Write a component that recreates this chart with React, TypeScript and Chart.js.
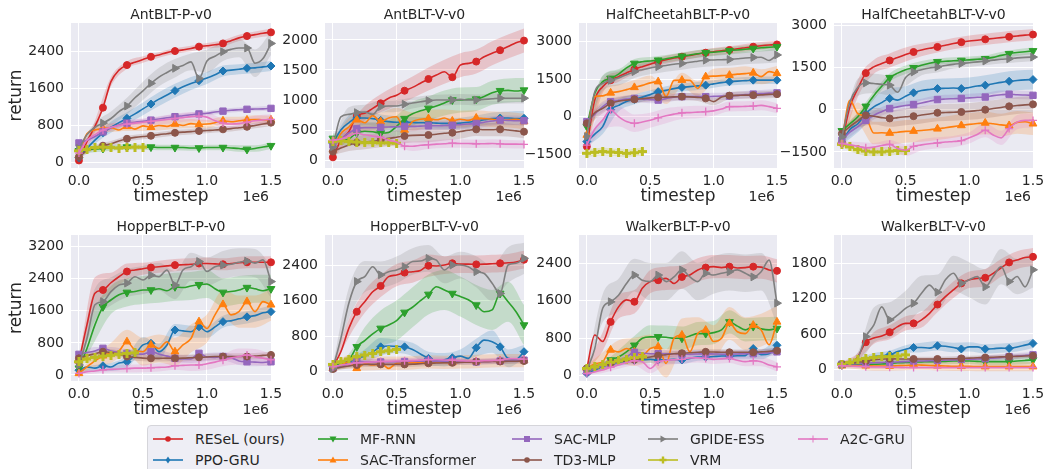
import React, { useEffect, useRef } from "react";
import { Chart, registerables } from "chart.js";

Chart.register(...registerables);

const FONT = "'DejaVu Sans', 'Liberation Sans', sans-serif";
const TEXT = "#262626";
const PLOT_BG = "#EAEAF2";

// ---------- series ----------
const SERIES_NAMES = ["RESeL (ours)", "PPO-GRU", "MF-RNN", "SAC-Transformer", "SAC-MLP", "TD3-MLP", "GPIDE-ESS", "VRM", "A2C-GRU"];
const SERIES_COLORS = ["#d62728", "#1f77b4", "#2ca02c", "#ff7f0e", "#9467bd", "#8c564b", "#7f7f7f", "#bcbd22", "#e377c2"];
const SERIES_MARKERS = ["circle", "diamond", "triDown", "triUp", "square", "circle", "triRight", "plus", "cross"];

// timestep grid (x 1e6)
const STEPS = [0, 0.0625, 0.125, 0.1875, 0.25, 0.3125, 0.375, 0.4375, 0.5, 0.5625, 0.625, 0.6875, 0.75, 0.8125, 0.875, 0.9375, 1.0, 1.0625, 1.125, 1.1875, 1.25, 1.3125, 1.375, 1.4375, 1.5];
const X_TICKS = [0, 0.5, 1.0, 1.5];

// ---------- AntBLT-P-v0 ----------
const ANT_P_MEAN = [
  [40, 450, 780, 1185, 1750, 2000, 2110, 2170, 2230, 2290, 2330, 2380, 2414, 2440, 2470, 2510, 2530, 2550, 2580, 2640, 2700, 2740, 2770, 2800, 2820],
  [100, 300, 480, 640, 760, 860, 955, 1050, 1160, 1265, 1370, 1460, 1555, 1640, 1710, 1770, 1830, 1900, 1980, 2000, 2020, 2040, 2050, 2070, 2090],
  [250, 270, 290, 300, 310, 320, 330, 330, 330, 330, 320, 320, 320, 320, 310, 310, 320, 320, 320, 310, 300, 280, 300, 330, 360],
  [150, 620, 700, 730, 750, 700, 780, 720, 790, 760, 800, 780, 830, 800, 840, 820, 830, 860, 900, 880, 900, 920, 930, 920, 920],
  [420, 480, 560, 660, 750, 810, 850, 870, 890, 915, 940, 965, 990, 1010, 1030, 1050, 1065, 1090, 1110, 1130, 1140, 1150, 1155, 1160, 1170],
  [120, 250, 320, 360, 400, 460, 510, 540, 560, 575, 600, 620, 640, 655, 665, 680, 690, 700, 715, 730, 750, 770, 800, 830, 860],
  [300, 600, 760, 850, 950, 1100, 1220, 1400, 1550, 1713, 1850, 1950, 2040, 2100, 2180, 1820, 2200, 2300, 2400, 2450, 2480, 2480, 2150, 2250, 2580],
  [250, 280, 320, 330, 320, 310, 320, 330, 330],
  [200, 480, 600, 700, 760, 800, 830, 850, 870, 890, 910, 930, 950, 970, 990, 1000, 980, 900, 850, 830, 840, 870, 900, 920, 930],
];
const ANT_P_SPREAD = [
  [30, 120, 100, 80, 70, 60, 60, 60, 60, 70, 70, 70, 80],
  [50, 80, 120, 130, 140, 150, 150, 140, 130, 120, 110, 110, 110],
  [60, 70, 60, 60, 60, 60, 60, 60, 60, 60, 70, 70, 70],
  [60, 80, 90, 100, 110, 110, 100, 100, 90, 90, 90, 90, 90],
  [40, 50, 50, 50, 50, 50, 50, 50, 50, 50, 50, 50, 50],
  [40, 50, 60, 60, 60, 60, 60, 60, 60, 60, 60, 60, 70],
  [60, 100, 150, 180, 200, 200, 200, 180, 250, 200, 200, 300, 250],
  [40, 40, 40, 40, 40],
  [50, 80, 80, 80, 80, 90, 100, 100, 100, 100, 100, 110, 110],
];
const ANT_P_YTICKS = [0, 800, 1600, 2400];

// ---------- AntBLT-V-v0 ----------
const ANT_V_MEAN = [
  [45, 330, 470, 735, 780, 860, 945, 1030, 1080, 1155, 1210, 1280, 1350, 1415, 1470, 1380, 1580, 1610, 1640, 1720, 1780, 1830, 1890, 1955, 1990],
  [280, 500, 620, 700, 700, 690, 660, 640, 630, 630, 625, 620, 620, 615, 610, 610, 615, 630, 650, 670, 690, 700, 700, 690, 695],
  [360, 320, 350, 450, 480, 470, 450, 460, 560, 690, 770, 820, 860, 900, 950, 1000, 1000, 1010, 1015, 1060, 1120, 1155, 1160, 1150, 1165],
  [170, 440, 550, 670, 620, 740, 640, 700, 720, 500, 640, 680, 690, 670, 700, 650, 680, 660, 700, 690, 680, 660, 670, 680, 640],
  [250, 350, 450, 520, 540, 540, 545, 550, 555, 560, 560, 565, 570, 570, 575, 580, 590, 600, 610, 630, 650, 665, 660, 655, 655],
  [140, 200, 250, 290, 300, 310, 333, 360, 380, 400, 410, 415, 417, 430, 445, 455, 475, 495, 511, 505, 505, 511, 500, 485, 472],
  [220, 720, 760, 790, 800, 760, 890, 900, 900, 930, 950, 970, 990, 1000, 1000, 1000, 1010, 1000, 1000, 1010, 1020, 1030, 1030, 1030, 1030],
  [305, 320, 310, 300, 290, 290, 285, 285, 280],
  [330, 350, 400, 445, 420, 400, 380, 330, 300, 230, 230, 245, 255, 265, 270, 280, 275, 275, 270, 270, 275, 270, 265, 265, 260],
];
const ANT_V_SPREAD = [
  [40, 100, 120, 150, 170, 180, 190, 200, 200, 200, 200, 200, 200],
  [60, 120, 120, 100, 100, 90, 90, 90, 90, 90, 100, 110, 120],
  [80, 120, 150, 170, 180, 200, 200, 210, 210, 200, 200, 200, 200],
  [80, 150, 150, 150, 150, 150, 150, 140, 140, 130, 130, 130, 130],
  [60, 80, 80, 80, 80, 80, 80, 80, 80, 80, 80, 80, 80],
  [60, 100, 120, 120, 120, 120, 120, 120, 120, 110, 110, 110, 110],
  [80, 120, 120, 100, 100, 90, 90, 90, 90, 90, 90, 90, 90],
  [50, 50, 50, 50, 50],
  [60, 100, 100, 100, 80, 80, 70, 70, 70, 70, 70, 70, 70],
];
const ANT_V_YTICKS = [0, 500, 1000, 1500, 2000];

// ---------- HalfCheetahBLT-P-v0 ----------
const HC_P_MEAN = [
  [-1200, 660, 1200, 1460, 1600, 1750, 1890, 2000, 2100, 2200, 2280, 2350, 2400, 2450, 2510, 2560, 2600, 2640, 2670, 2720, 2760, 2800, 2840, 2870, 2890],
  [-1000, -700, -400, 280, 450, 600, 690, 780, 880, 1000, 1050, 1120, 1170, 1200, 1230, 1260, 1310, 1360, 1395, 1420, 1440, 1460, 1460, 1460, 1460],
  [-400, 930, 1400, 1530, 1700, 1950, 2130, 2200, 2230, 2260, 2320, 2380, 2420, 2470, 2520, 2560, 2580, 2610, 2640, 2670, 2700, 2730, 2760, 2780, 2800],
  [-740, 800, 830, 950, 1000, 1080, 1170, 1250, 1350, 1400, 800, 1450, 1460, 1450, 1130, 1600, 1620, 1640, 1660, 1700, 1720, 1750, 1600, 1800, 1730],
  [-200, 100, 400, 600, 650, 700, 730, 700, 680, 660, 720, 780, 800, 800, 800, 800, 810, 820, 820, 850, 880, 900, 920, 940, 950],
  [-270, 150, 330, 530, 620, 660, 690, 720, 750, 770, 780, 790, 800, 790, 770, 730, 600, 780, 840, 850, 860, 860, 870, 890, 900],
  [-800, 1000, 1330, 1450, 1550, 1680, 1800, 1880, 1950, 2000, 2050, 2100, 2130, 2180, 2220, 2260, 2270, 2280, 2290, 2320, 2350, 2370, 2380, 2250, 2470],
  [-1470, -1430, -1400, -1420, -1440, -1470, -1450, -1400],
  [-1140, -500, -140, 260, 0, -200, -270, -220, -150, -50, 30, 100, 150, 160, 180, 200, 230, 300, 400, 400, 410, 420, 450, 400, 330],
];
const HC_P_SPREAD = [
  [150, 250, 200, 180, 170, 160, 150, 150, 150, 150, 150, 150, 150],
  [200, 300, 250, 200, 180, 170, 160, 160, 150, 150, 150, 150, 150],
  [150, 250, 200, 180, 160, 150, 150, 150, 150, 150, 150, 150, 150],
  [200, 300, 300, 300, 300, 300, 300, 300, 300, 300, 300, 300, 300],
  [150, 200, 150, 150, 150, 150, 150, 150, 150, 150, 150, 150, 150],
  [150, 200, 150, 150, 150, 150, 150, 150, 150, 150, 150, 150, 150],
  [200, 300, 300, 250, 250, 250, 250, 250, 250, 250, 250, 250, 300],
  [150, 150, 150, 150],
  [200, 400, 400, 350, 300, 300, 250, 250, 200, 200, 200, 200, 200],
];
const HC_P_YTICKS = [-1500, 0, 1500, 3000];

// ---------- HalfCheetahBLT-V-v0 ----------
const HC_V_MEAN = [
  [-1180, 100, 750, 1300, 1520, 1640, 1750, 1850, 1960, 2050, 2120, 2180, 2230, 2290, 2350, 2400, 2440, 2470, 2500, 2530, 2560, 2590, 2620, 2650, 2670],
  [-1150, -700, -500, -140, 100, 250, 400, 340, 480, 600, 680, 720, 750, 760, 770, 750, 790, 840, 870, 920, 970, 1010, 1040, 1060, 1070],
  [-750, -500, -250, 120, 500, 830, 1140, 1300, 1420, 1490, 1580, 1650, 1700, 1720, 1740, 1750, 1770, 1790, 1810, 1860, 1930, 1990, 2030, 2060, 2090],
  [-1090, 330, -140, -260, -830, -820, -830, -800, -770, -760, -740, -710, -680, -640, -600, -560, -520, -490, -470, -500, -540, -560, -450, -430, -500],
  [-1090, -800, -600, -380, -200, -70, 40, 100, 150, 180, 240, 300, 360, 380, 390, 400, 420, 440, 450, 500, 530, 550, 530, 520, 510],
  [-850, -600, -400, -200, -230, -280, -310, -280, -250, -230, -190, -150, -110, -100, -90, -80, -60, -30, 0, 40, 80, 120, 150, 170, 190],
  [-970, 270, 800, 950, 930, 900, 870, 620, 1140, 1340, 1420, 1480, 1520, 1570, 1610, 1640, 1670, 1700, 1730, 1760, 1790, 1810, 1840, 1860, 1870],
  [-1230, -1320, -1420, -1470, -1500, -1500, -1470, -1450, -1450],
  [-1200, -1250, -1300, -1350, -1330, -1270, -1230, -1380, -1440, -1300, -1250, -1210, -1180, -1150, -1130, -1100, -1000, -880, -730, -900, -1000, -670, -440, -380, -380],
];
const HC_V_SPREAD = [
  [100, 300, 250, 250, 250, 220, 200, 200, 200, 200, 200, 200, 200],
  [100, 300, 350, 350, 350, 350, 350, 350, 350, 350, 350, 350, 350],
  [100, 150, 150, 150, 150, 150, 120, 120, 120, 120, 120, 120, 120],
  [100, 400, 400, 400, 400, 400, 400, 400, 400, 400, 400, 400, 400],
  [100, 150, 150, 150, 150, 150, 150, 150, 150, 150, 150, 150, 150],
  [100, 250, 300, 300, 300, 300, 300, 300, 300, 300, 300, 300, 300],
  [100, 300, 350, 350, 300, 200, 200, 150, 150, 150, 150, 150, 150],
  [100, 150, 150, 150, 150],
  [100, 150, 150, 150, 200, 200, 200, 200, 200, 250, 250, 250, 250],
];
const HC_V_YTICKS = [-1500, 0, 1500, 3000];

// ---------- HopperBLT-P-v0 ----------
const HOP_P_MEAN = [
  [330, 1250, 2040, 2120, 2300, 2450, 2580, 2620, 2650, 2680, 2700, 2720, 2740, 2750, 2760, 2780, 2780, 2770, 2760, 2780, 2800, 2810, 2810, 2810, 2810],
  [120, 200, 170, 230, 200, 300, 330, 500, 750, 790, 580, 750, 1120, 1100, 1080, 1200, 1080, 1200, 1330, 1350, 1400, 1450, 1480, 1550, 1580],
  [170, 660, 1250, 1700, 1870, 2000, 2060, 2080, 2120, 2120, 2150, 2100, 2200, 2180, 2220, 2250, 2270, 2150, 2060, 2080, 2120, 2180, 2150, 2100, 2150],
  [40, 200, 350, 480, 550, 600, 830, 620, 580, 750, 660, 830, 580, 750, 910, 1330, 1160, 1500, 1760, 1500, 1580, 1830, 1580, 1830, 1750],
  [515, 560, 600, 665, 600, 560, 540, 520, 520, 580, 520, 470, 415, 400, 400, 540, 450, 440, 460, 430, 350, 330, 320, 310, 330],
  [415, 480, 530, 580, 560, 520, 460, 440, 420, 415, 415, 420, 415, 420, 430, 440, 450, 460, 460, 460, 460, 460, 470, 490, 500],
  [250, 910, 1750, 1830, 2080, 2240, 2290, 2450, 2370, 2490, 2450, 2620, 2240, 2620, 2700, 2830, 2580, 2700, 2740, 2760, 2810, 2840, 2790, 2870, 2330],
  [330, 400, 440, 470, 490, 520, 540, 550],
  [40, 80, 100, 130, 140, 150, 160, 170, 170, 180, 190, 200, 230, 240, 250, 250, 280, 320, 370, 420, 460, 500, 450, 420, 380],
];
const HOP_P_SPREAD = [
  [80, 400, 250, 200, 150, 150, 150, 150, 150, 150, 150, 150, 150],
  [60, 80, 100, 150, 200, 200, 150, 150, 150, 150, 150, 150, 150],
  [80, 400, 350, 350, 350, 350, 350, 350, 350, 350, 350, 350, 350],
  [50, 150, 250, 300, 350, 350, 350, 350, 350, 350, 400, 400, 400],
  [60, 100, 100, 100, 100, 100, 100, 100, 100, 100, 100, 100, 100],
  [60, 80, 80, 80, 80, 80, 80, 80, 80, 80, 80, 80, 80],
  [80, 400, 350, 350, 350, 350, 350, 350, 350, 350, 350, 350, 400],
  [80, 80, 80, 80],
  [40, 60, 80, 100, 100, 100, 100, 150, 150, 150, 200, 200, 150],
];
const HOP_P_YTICKS = [0, 800, 1600, 2400, 3200];

// ---------- HopperBLT-V-v0 ----------
const HOP_V_MEAN = [
  [110, 450, 975, 1350, 1575, 1800, 1930, 2140, 2175, 2230, 2250, 2280, 2385, 2380, 2400, 2440, 2420, 2420, 2415, 2420, 2430, 2440, 2450, 2470, 2520],
  [110, 150, 200, 315, 350, 450, 560, 580, 570, 560, 500, 400, 300, 250, 270, 315, 350, 300, 540, 710, 675, 560, 300, 280, 450],
  [110, 180, 250, 560, 700, 850, 975, 1050, 1150, 1335, 1450, 1600, 1740, 1910, 1840, 1760, 1690, 1620, 1500, 1350, 1390, 1760, 1575, 1350, 1050],
  [75, 150, 225, 75, 180, 150, 190, 75, 190, 200, 200, 210, 220, 215, 210, 210, 220, 230, 230, 240, 245, 250, 250, 250, 250],
  [75, 130, 180, 240, 220, 220, 220, 225, 225, 230, 235, 235, 240, 235, 235, 230, 225, 220, 220, 230, 235, 240, 250, 255, 260],
  [60, 100, 130, 150, 165, 165, 165, 165, 165, 165, 170, 180, 190, 195, 200, 200, 210, 215, 225, 225, 230, 230, 235, 235, 240],
  [75, 750, 1540, 2030, 2140, 2360, 2180, 2250, 2290, 2360, 2480, 2490, 2550, 2510, 2290, 2400, 2400, 2360, 2250, 2210, 1990, 1760, 2400, 2440, 2550],
  [165, 225, 285, 340, 375, 410, 450, 470, 500],
  [110, 150, 170, 200, 210, 220, 230, 235, 240, 245, 250, 260, 270, 270, 265, 260, 250, 240, 240, 245, 250, 260, 290, 290, 285],
];
const HOP_V_SPREAD = [
  [50, 200, 250, 250, 250, 250, 250, 200, 200, 200, 200, 200, 200],
  [50, 80, 150, 200, 150, 150, 150, 150, 150, 200, 250, 200, 150],
  [50, 150, 300, 400, 450, 450, 450, 450, 450, 450, 450, 450, 450],
  [50, 150, 150, 150, 150, 150, 150, 150, 150, 150, 150, 150, 150],
  [40, 60, 60, 60, 60, 60, 60, 60, 60, 60, 60, 60, 60],
  [40, 60, 60, 60, 60, 60, 60, 60, 60, 60, 60, 60, 60],
  [60, 350, 350, 300, 300, 300, 300, 300, 300, 350, 400, 400, 350],
  [50, 60, 60, 60, 60],
  [40, 60, 60, 60, 60, 60, 60, 60, 60, 60, 60, 60, 60],
];
const HOP_V_YTICKS = [0, 800, 1600, 2400];

// ---------- WalkerBLT-P-v0 ----------
const WALK_P_MEAN = [
  [155, 870, 730, 1150, 1470, 1620, 1580, 1870, 2010, 2040, 2080, 1970, 2110, 2150, 2260, 2310, 2330, 2310, 2330, 2300, 2310, 2330, 2320, 2260, 2240],
  [50, 120, 200, 250, 290, 300, 330, 340, 350, 335, 340, 350, 335, 370, 400, 400, 410, 420, 420, 425, 430, 580, 450, 470, 650],
  [120, 150, 200, 335, 400, 510, 650, 800, 830, 830, 820, 800, 800, 850, 900, 900, 920, 980, 1150, 1060, 980, 1050, 1000, 980, 1010],
  [155, 250, 300, 550, 510, 580, 510, 440, 580, 620, 260, 800, 870, 510, 900, 975, 730, 800, 1120, 940, 900, 1080, 975, 660, 1150],
  [85, 150, 200, 250, 300, 400, 500, 480, 470, 470, 470, 470, 460, 460, 465, 470, 465, 460, 460, 465, 470, 470, 480, 490, 510],
  [155, 200, 240, 270, 300, 320, 340, 370, 400, 430, 450, 470, 480, 490, 500, 510, 505, 500, 500, 500, 500, 500, 510, 520, 535],
  [120, 580, 1440, 1580, 1720, 1970, 2150, 2040, 2010, 2150, 2010, 2110, 2260, 2110, 2010, 2190, 2150, 2190, 2220, 2260, 2190, 2110, 2220, 2470, 1550],
  [155, 190, 240, 285, 315, 355, 385, 405],
  [50, 80, 120, 180, 230, 280, 320, 300, 155, 300, 330, 340, 350, 380, 380, 370, 350, 360, 370, 330, 300, 320, 300, 230, 190],
];
const WALK_P_SPREAD = [
  [60, 200, 250, 250, 250, 250, 250, 250, 250, 250, 250, 250, 250],
  [40, 60, 80, 80, 80, 80, 80, 80, 80, 80, 80, 100, 120],
  [40, 80, 150, 200, 250, 250, 250, 250, 250, 250, 250, 250, 250],
  [60, 200, 250, 300, 300, 300, 350, 350, 350, 350, 350, 350, 350],
  [40, 80, 80, 80, 80, 80, 80, 80, 80, 80, 80, 80, 80],
  [40, 60, 60, 60, 60, 60, 60, 60, 60, 60, 60, 60, 60],
  [60, 300, 350, 350, 400, 400, 400, 400, 400, 400, 400, 400, 450],
  [60, 60, 60, 60],
  [40, 60, 80, 100, 100, 100, 100, 100, 100, 100, 100, 100, 100],
];
const WALK_P_YTICKS = [0, 800, 1600, 2400];

// ---------- WalkerBLT-V-v0 ----------
const WALK_V_MEAN = [
  [85, 90, 215, 460, 530, 565, 630, 725, 780, 780, 840, 950, 1100, 1235, 1350, 1460, 1520, 1545, 1555, 1630, 1725, 1815, 1855, 1900, 1910],
  [85, 100, 130, 150, 215, 230, 245, 300, 340, 370, 370, 360, 400, 390, 370, 345, 380, 380, 345, 350, 360, 355, 380, 410, 440],
  [75, 80, 80, 80, 85, 90, 100, 110, 115, 120, 125, 130, 130, 135, 140, 140, 140, 135, 130, 130, 130, 130, 140, 150, 160],
  [60, 60, 60, 60, 55, 55, 55, 60, 65, 75, 70, 65, 60, 55, 50, 50, 50, 45, 45, 45, 45, 45, 45, 45, 45],
  [85, 90, 95, 100, 110, 115, 120, 125, 130, 140, 140, 145, 150, 155, 160, 170, 170, 175, 180, 190, 200, 215, 225, 235, 245],
  [85, 100, 120, 140, 160, 170, 180, 175, 175, 175, 175, 175, 175, 180, 180, 185, 190, 195, 200, 205, 210, 215, 220, 225, 230],
  [75, 100, 190, 555, 750, 1060, 840, 920, 1035, 1120, 1290, 1430, 1310, 1520, 1630, 1460, 1520, 1575, 1400, 1575, 1745, 1490, 1575, 1400, 1690],
  [85, 115, 160, 185, 200, 215, 215, 225, 245],
  [60, 55, 50, 45, 40, 40, 35, 35, 30, 30, 30, 30, 30, 30, 30, 30, 30, 30, 30, 30, 30, 30, 30, 30, 30],
];
const WALK_V_SPREAD = [
  [30, 60, 100, 120, 120, 130, 130, 140, 140, 150, 150, 150, 150],
  [30, 50, 60, 70, 70, 80, 80, 80, 80, 80, 80, 80, 80],
  [30, 40, 50, 50, 50, 50, 50, 50, 50, 60, 60, 60, 60],
  [40, 60, 80, 80, 80, 80, 80, 80, 80, 80, 80, 80, 80],
  [30, 40, 40, 40, 40, 40, 40, 40, 40, 50, 50, 50, 50],
  [30, 40, 40, 40, 40, 40, 40, 40, 40, 40, 40, 40, 40],
  [30, 100, 300, 300, 300, 300, 300, 300, 300, 300, 300, 300, 300],
  [40, 40, 40, 40, 40],
  [30, 30, 30, 30, 30, 30, 30, 30, 30, 30, 30, 30, 30],
];
const WALK_V_YTICKS = [0, 600, 1200, 1800];

const PANELS = [
  { title: "AntBLT-P-v0", mean: ANT_P_MEAN, spread: ANT_P_SPREAD, yTicks: ANT_P_YTICKS, yMin: -124, yMax: 3023 },
  { title: "AntBLT-V-v0", mean: ANT_V_MEAN, spread: ANT_V_SPREAD, yTicks: ANT_V_YTICKS, yMin: -133, yMax: 2283 },
  { title: "HalfCheetahBLT-P-v0", mean: HC_P_MEAN, spread: HC_P_SPREAD, yTicks: HC_P_YTICKS, yMin: -2060, yMax: 3750 },
  { title: "HalfCheetahBLT-V-v0", mean: HC_V_MEAN, spread: HC_V_SPREAD, yTicks: HC_V_YTICKS, yMin: -2071, yMax: 3080 },
  { title: "HopperBLT-P-v0", mean: HOP_P_MEAN, spread: HOP_P_SPREAD, yTicks: HOP_P_YTICKS, yMin: -150, yMax: 3491 },
  { title: "HopperBLT-V-v0", mean: HOP_V_MEAN, spread: HOP_V_SPREAD, yTicks: HOP_V_YTICKS, yMin: -209, yMax: 3076 },
  { title: "WalkerBLT-P-v0", mean: WALK_P_MEAN, spread: WALK_P_SPREAD, yTicks: WALK_P_YTICKS, yMin: -113, yMax: 3006 },
  { title: "WalkerBLT-V-v0", mean: WALK_V_MEAN, spread: WALK_V_SPREAD, yTicks: WALK_V_YTICKS, yMin: -199, yMax: 2281 },
];

// ---------- layout ----------
const X_MIN = -0.062;
const X_MAX = 1.5;
const PLOT_LEFT = [71, 325, 579, 834];
const PLOT_WIDTH = [200, 199, 198, 199];
const ROW_TOP = [23, 235];
const PLOT_HEIGHT = [145, 146];
const PAD_TOP = 23;
const PAD_RIGHT = 20;
const X_AXIS_H = 40;

function rgba(hex: string, a: number) {
  const r = parseInt(hex.slice(1, 3), 16);
  const g = parseInt(hex.slice(3, 5), 16);
  const b = parseInt(hex.slice(5, 7), 16);
  return `rgba(${r},${g},${b},${a})`;
}

const plusCache: Record<string, HTMLCanvasElement> = {};
function plusImage(color: string) {
  if (plusCache[color]) return plusCache[color];
  const c = document.createElement("canvas");
  c.width = 9;
  c.height = 9;
  const g = c.getContext("2d")!;
  g.fillStyle = color;
  g.fillRect(3, 0, 3, 9);
  g.fillRect(0, 3, 9, 3);
  plusCache[color] = c;
  return c;
}

function markerStyle(kind: string, color: string) {
  switch (kind) {
    case "circle": return { pointStyle: "circle", radius: 3.5, rotation: 0 };
    case "diamond": return { pointStyle: "rectRot", radius: 4, rotation: 0 };
    case "triDown": return { pointStyle: "triangle", radius: 4.5, rotation: 180 };
    case "triUp": return { pointStyle: "triangle", radius: 4.5, rotation: 0 };
    case "square": return { pointStyle: "rect", radius: 4.5, rotation: 0 };
    case "triRight": return { pointStyle: "triangle", radius: 4.5, rotation: 90 };
    case "plus": return { pointStyle: plusImage(color), radius: 4, rotation: 0 };
    default: return { pointStyle: "cross", radius: 4, rotation: 0 };
  }
}

function fmtY(v: number) {
  return v < 0 ? "\u2212" + Math.abs(v) : String(v);
}

const panelText = {
  id: "panelText",
  beforeDraw(chart: any) {
    const { ctx, chartArea } = chart;
    ctx.save();
    ctx.fillStyle = PLOT_BG;
    ctx.fillRect(chartArea.left, chartArea.top, chartArea.right - chartArea.left, chartArea.bottom - chartArea.top);
    ctx.restore();
  },
  afterDraw(chart: any) {
    const { ctx, chartArea } = chart;
    const title = chart.options.plugins.panelText.title;
    ctx.save();
    ctx.fillStyle = TEXT;
    ctx.font = `14px ${FONT}`;
    ctx.textAlign = "center";
    ctx.textBaseline = "alphabetic";
    ctx.fillText(title, (chartArea.left + chartArea.right) / 2, chartArea.top - 4);
    ctx.textAlign = "right";
    ctx.fillText("1e6", chartArea.right - 2, chartArea.bottom + 33);
    ctx.restore();
  },
};

function Panel({ panel, index }: { panel: any; index: number }) {
  const ref = useRef<HTMLCanvasElement>(null);
  const col = index % 4;
  const row = Math.floor(index / 4);
  const yw = col === 0 ? 71 : 60;
  const left = PLOT_LEFT[col] - yw;
  const top = ROW_TOP[row] - PAD_TOP;
  const width = yw + PLOT_WIDTH[col] + PAD_RIGHT;
  const height = PAD_TOP + PLOT_HEIGHT[row] + X_AXIS_H;

  useEffect(() => {
    const datasets: any[] = [];
    panel.mean.forEach((m: number[], si: number) => {
      const n = m.length;
      const sp: number[] = panel.spread[si];
      const k = sp.length;
      const idxs = sp.map((_, j) => Math.round((j * (n - 1)) / (k - 1)));
      const color = SERIES_COLORS[si];
      datasets.push({
        data: idxs.map((ix, j) => ({ x: STEPS[ix], y: m[ix] + sp[j] })),
        borderWidth: 0, borderColor: "transparent", pointRadius: 0,
        backgroundColor: rgba(color, 0.2), fill: "+1", order: 100 - si,
        cubicInterpolationMode: "monotone",
      });
      datasets.push({
        data: idxs.map((ix, j) => ({ x: STEPS[ix], y: m[ix] - sp[j] })),
        borderWidth: 0, borderColor: "transparent", pointRadius: 0,
        backgroundColor: "transparent", fill: false, order: 100 - si,
        cubicInterpolationMode: "monotone",
      });
    });
    panel.mean.forEach((m: number[], si: number) => {
      const color = SERIES_COLORS[si];
      const mk = markerStyle(SERIES_MARKERS[si], color);
      const every = m.length < 12 ? 1 : 3;
      datasets.push({
        label: SERIES_NAMES[si],
        data: m.map((y, i) => ({ x: STEPS[i], y })),
        borderColor: color, backgroundColor: color, borderWidth: 1.6,
        pointStyle: mk.pointStyle, pointRotation: mk.rotation,
        pointRadius: (c: any) => (c.dataIndex % every === 0 ? mk.radius : 0),
        pointHoverRadius: 0, pointBorderColor: color, pointBackgroundColor: color,
        pointBorderWidth: SERIES_MARKERS[si] === "cross" ? 1.3 : 1,
        fill: false, order: 50 - si, cubicInterpolationMode: "monotone", clip: 8,
      });
    });

    const chart = new Chart(ref.current!, {
      type: "line",
      data: { datasets },
      plugins: [panelText],
      options: {
        responsive: false, animation: false, devicePixelRatio: 1, events: [],
        layout: { padding: { top: PAD_TOP, right: PAD_RIGHT, left: 0, bottom: 0 }, autoPadding: false },
        plugins: {
          legend: { display: false }, tooltip: { enabled: false }, title: { display: false },
          panelText: { title: panel.title },
        } as any,
        scales: {
          x: {
            type: "linear", min: X_MIN, max: X_MAX,
            afterBuildTicks: (s: any) => { s.ticks = X_TICKS.map((v) => ({ value: v })); },
            afterFit: (s: any) => { s.height = X_AXIS_H; },
            grid: { color: "#ffffff", lineWidth: 1, drawTicks: false },
            border: { display: false },
            ticks: { padding: 5, color: TEXT, font: { size: 14, family: FONT }, autoSkip: false, maxRotation: 0,
              callback: (v: any) => Number(v).toFixed(1) },
            title: { display: true, text: "timestep", color: TEXT, font: { size: 17, family: FONT }, padding: { top: 0, bottom: 1 } },
          },
          y: {
            type: "linear", min: panel.yMin, max: panel.yMax,
            afterBuildTicks: (s: any) => { s.ticks = panel.yTicks.map((v: number) => ({ value: v })); },
            afterFit: (s: any) => { s.width = yw; },
            grid: { color: "#ffffff", lineWidth: 1, drawTicks: false },
            border: { display: false },
            ticks: { padding: 7, color: TEXT, font: { size: 14, family: FONT }, autoSkip: false,
              callback: (v: any) => fmtY(Number(v)) },
            title: { display: col === 0, text: "return", color: TEXT, font: { size: 17, family: FONT }, padding: { top: 6, bottom: 0 } },
          },
        },
      } as any,
    });
    return () => chart.destroy();
  }, []);

  return (
    <canvas ref={ref} width={width} height={height}
      style={{ position: "absolute", left, top, width, height }} />
  );
}

const LEGEND_LINE_X = [153, 318, 512, 648, 798];
const LEGEND_TEXT_X = [195, 360, 554, 690, 840];
const LEGEND_ROW_Y = [439, 460];

function LegendMarker({ kind, color }: { kind: string; color: string }) {
  const cx = 15, cy = 6;
  let m: any = null;
  if (kind === "circle") m = <circle cx={cx} cy={cy} r={2.8} fill={color} />;
  else if (kind === "diamond") m = <polygon points={`${cx},${cy - 3.5} ${cx + 2.4},${cy} ${cx},${cy + 3.5} ${cx - 2.4},${cy}`} fill={color} />;
  else if (kind === "triDown") m = <polygon points={`${cx - 3.5},${cy - 2.5} ${cx + 3.5},${cy - 2.5} ${cx},${cy + 3.5}`} fill={color} />;
  else if (kind === "triUp") m = <polygon points={`${cx - 3.5},${cy + 2.5} ${cx + 3.5},${cy + 2.5} ${cx},${cy - 3.5}`} fill={color} />;
  else if (kind === "square") m = <rect x={cx - 3} y={cy - 3} width={6} height={6} fill={color} />;
  else if (kind === "triRight") m = <polygon points={`${cx - 2.5},${cy - 3.5} ${cx - 2.5},${cy + 3.5} ${cx + 3.5},${cy}`} fill={color} />;
  else if (kind === "plus") m = <path d={`M${cx - 1.2} ${cy - 3.5}h2.4v2.3h2.3v2.4h-2.3v2.3h-2.4v-2.3h-2.3v-2.4h2.3z`} fill={color} />;
  else m = <path d={`M${cx - 3.5} ${cy}H${cx + 3.5}M${cx} ${cy - 3.5}V${cy + 3.5}`} stroke={color} strokeWidth={1} />;
  return (
    <svg width={30} height={12} style={{ display: "block" }}>
      <line x1={0} y1={cy} x2={30} y2={cy} stroke={color} strokeWidth={1.6} />
      {m}
    </svg>
  );
}

function Legend() {
  return (
    <>
      <div style={{ position: "absolute", left: 147, top: 425, width: 765, height: 60, boxSizing: "border-box",
        border: "1px solid #d5d5da", borderRadius: 4, background: "#eeeef5" }} />
      {SERIES_NAMES.map((name, i) => {
        const c = Math.floor(i / 2);
        const r = i % 2;
        const y = LEGEND_ROW_Y[r];
        return (
          <React.Fragment key={name}>
            <div style={{ position: "absolute", left: LEGEND_LINE_X[c], top: y - 6 }}>
              <LegendMarker kind={SERIES_MARKERS[i]} color={SERIES_COLORS[i]} />
            </div>
            <div style={{ position: "absolute", left: LEGEND_TEXT_X[c], top: y - 9, height: 18, lineHeight: "18px",
              fontSize: 14, fontFamily: FONT, color: TEXT, whiteSpace: "nowrap" }}>{name}</div>
          </React.Fragment>
        );
      })}
    </>
  );
}

export default function App() {
  return (
    <div style={{ position: "absolute", left: 0, top: 0, width: 1045, height: 469, overflow: "hidden", background: "#ffffff" }}>
      {PANELS.map((p, i) => <Panel key={i} panel={p} index={i} />)}
      <Legend />
    </div>
  );
}
